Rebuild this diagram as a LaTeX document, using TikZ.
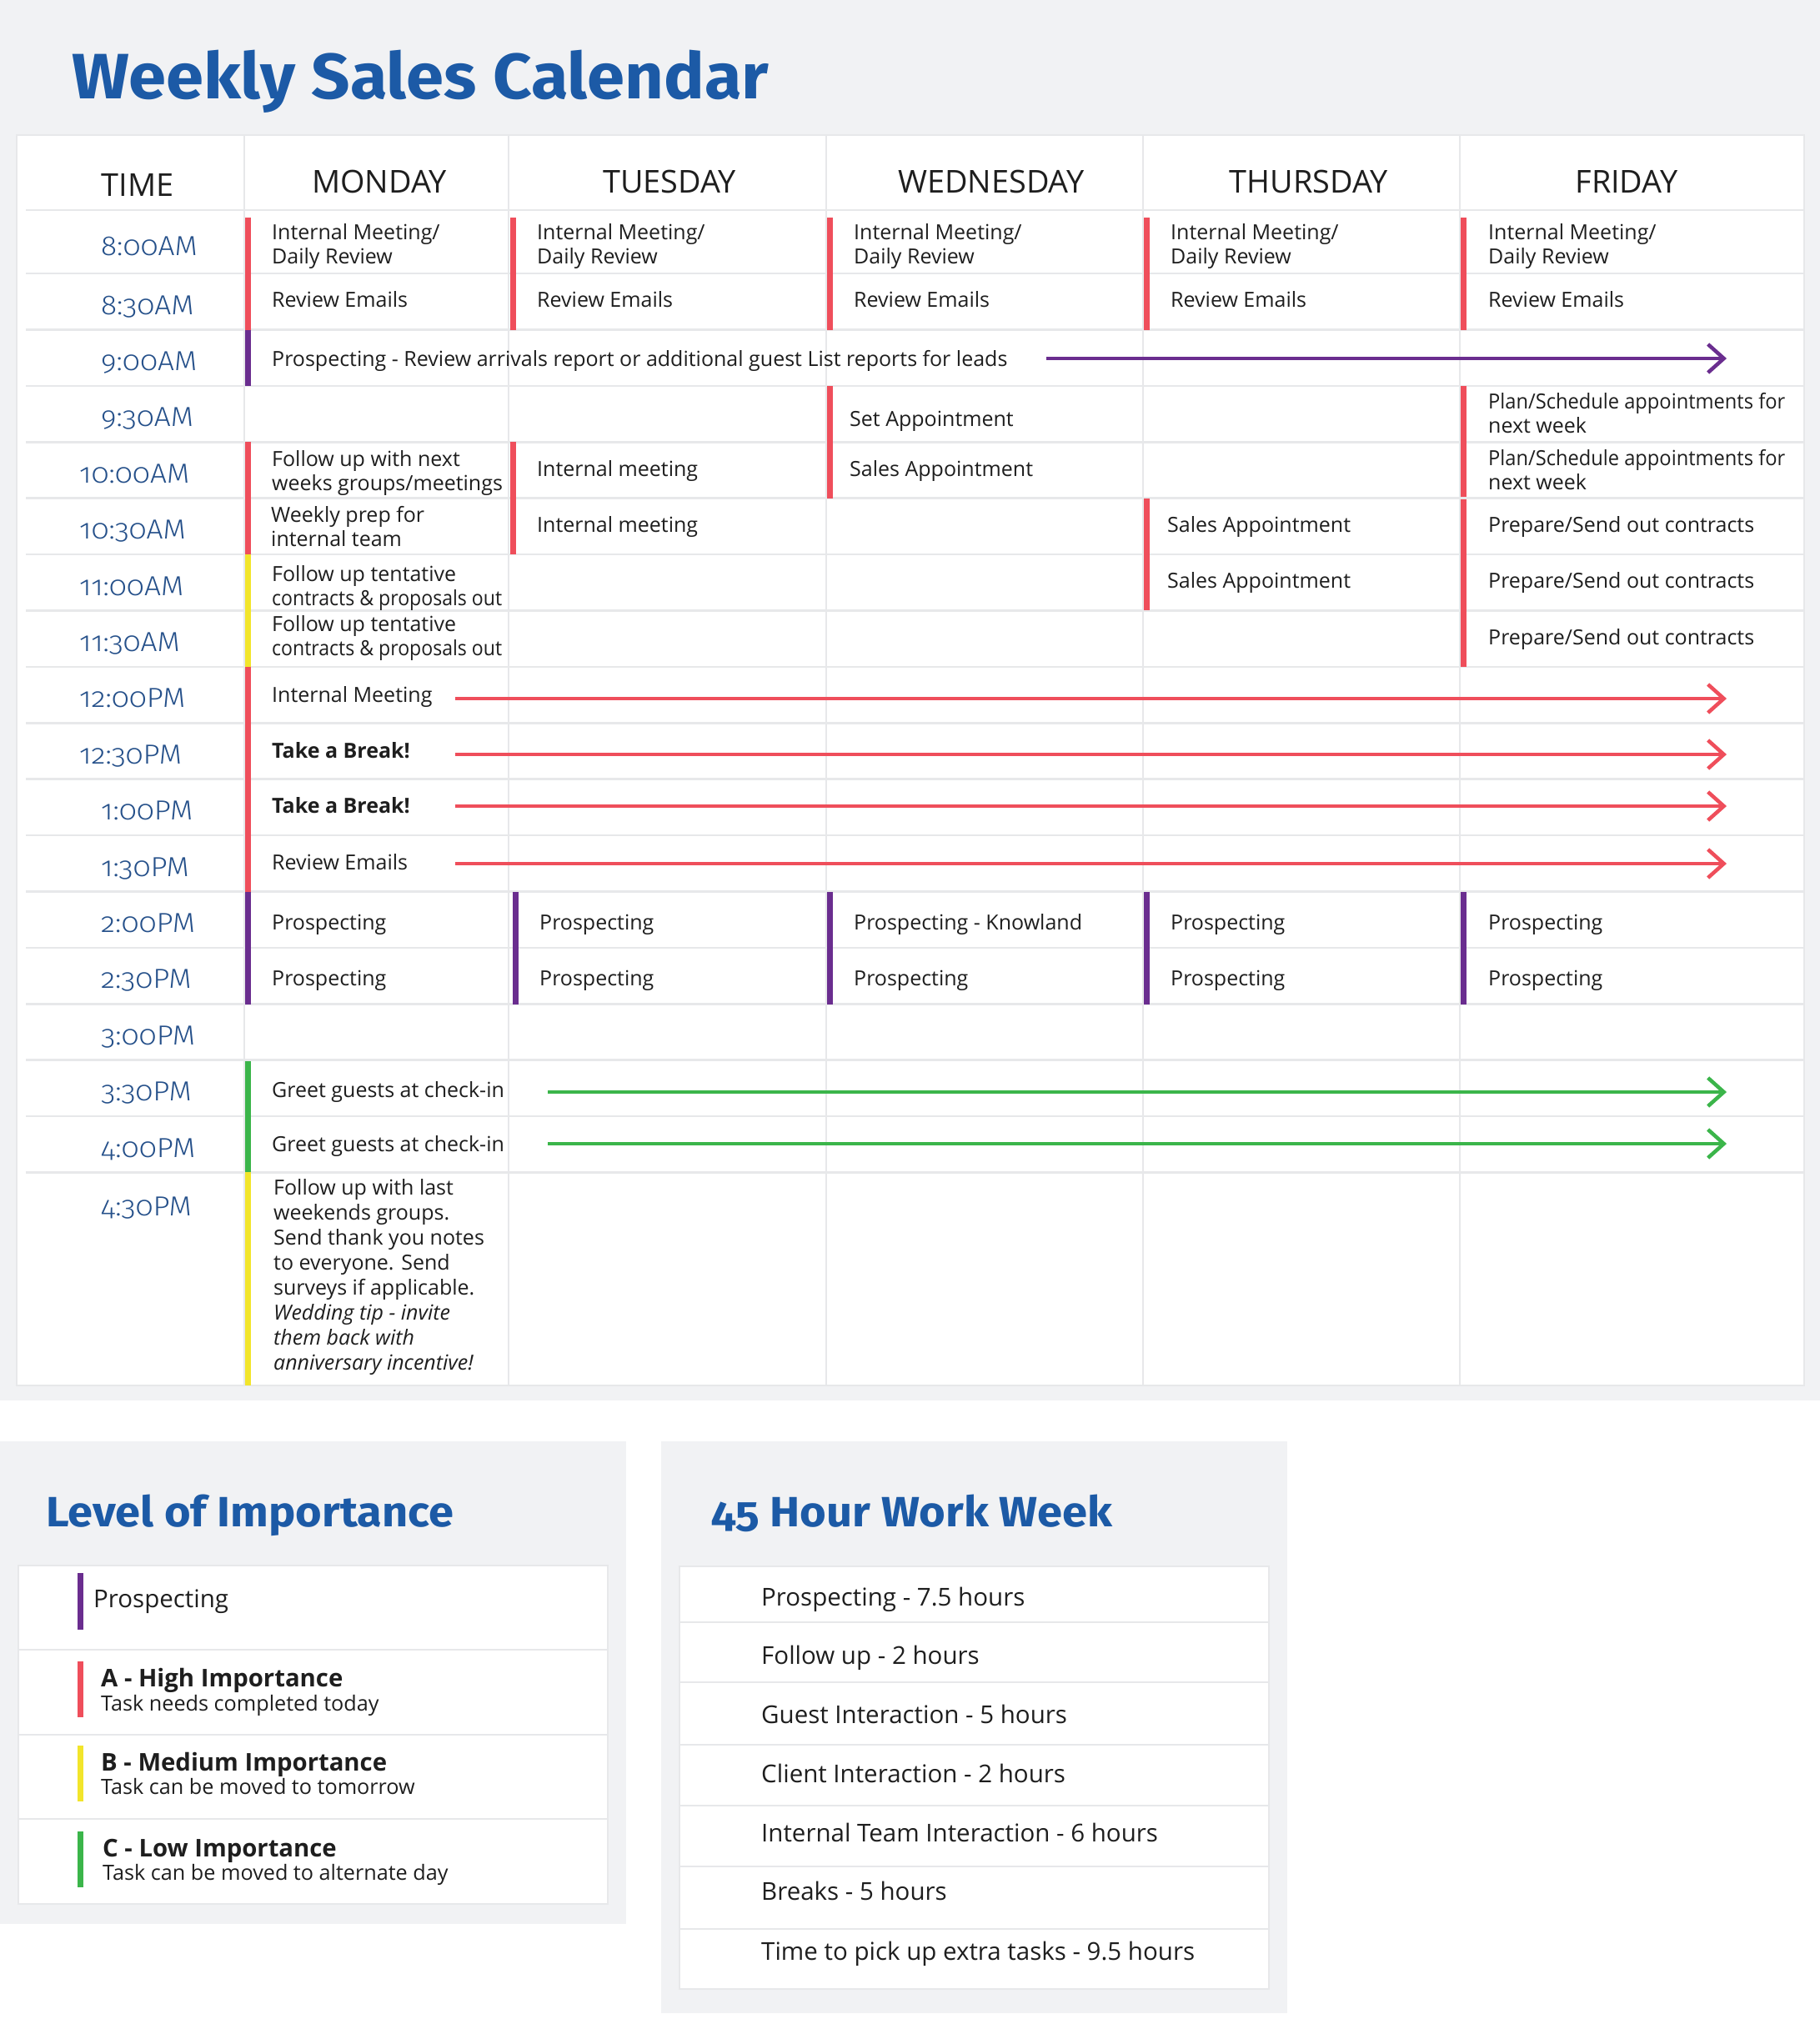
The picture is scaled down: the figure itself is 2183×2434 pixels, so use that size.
\documentclass[tikz,border=0pt]{standalone}
\usepackage{fontspec}
\usepackage{graphicx}
\setmainfont{Open Sans}
\newfontfamily\timefont[Numbers=OldStyle]{Fira Sans Light}
\newfontfamily\titlefont[Numbers=OldStyle]{Fira Sans}
\usetikzlibrary{arrows.meta}
\definecolor{bggray}{HTML}{F1F2F4}
\definecolor{gridgray}{HTML}{E7E8EA}
\definecolor{tred}{HTML}{EF4E5B}
\definecolor{tpurple}{HTML}{6A2D8F}
\definecolor{tyellow}{HTML}{F2E52B}
\definecolor{tgreen}{HTML}{3BB54A}
\definecolor{tnavy}{HTML}{25508A}
\definecolor{tblue}{HTML}{1C5AA6}
\definecolor{ttext}{HTML}{1E1E1E}
\newcommand\fitw[2]{\resizebox{#1pt}{\height}{#2}}
\begin{document}
\begin{tikzpicture}[x=1pt,y=-1pt,
  cell/.style={anchor=base west, inner sep=0pt, text=ttext, align=left, font=\fontsize{25}{29.5}\selectfont},
  timelbl/.style={anchor=base west, inner sep=0pt, text=tnavy, font=\timefont\fontsize{33}{36}\selectfont},
  dayhdr/.style={anchor=base, inner sep=0pt, text=ttext, font=\fontsize{37.8}{40}\selectfont},
  colbar/.style={line width=7pt},
  gridline/.style={draw=gridgray, line width=2.6pt},
  vline/.style={draw=gridgray, line width=2pt},
  flow/.style={line width=4.5pt, -{Straight Barb[length=19pt,width=34pt]}},
  paneltitle/.style={anchor=base west, inner sep=0pt, text=tblue},
  legmain/.style={anchor=base west, inner sep=0pt, text=ttext, font=\bfseries\fontsize{29.3}{31}\selectfont},
  legsub/.style={anchor=base west, inner sep=0pt, text=ttext, font=\fontsize{25.2}{27}\selectfont},
  hourtxt/.style={anchor=base west, inner sep=0pt, text=ttext, font=\fontsize{29.5}{32}\selectfont},
]
\useasboundingbox (0,0) rectangle (2183,2434);
\fill[white] (0,0) rectangle (2183,2434);
% ---------- top panel ----------
\fill[bggray] (0,0) rectangle (2183,1680);
\node[paneltitle] (title) at (86,118) {\fitw{836}{\titlefont\bfseries\fontsize{77}{80}\selectfont Weekly Sales Calendar}};
\fill[white] (20,162) rectangle (2164,1662);
\draw[vline] (20,162) rectangle (2164,1662);
\foreach \y in {252,328,395.4,462.8,530.2,597.6,665,732.4,799.8,867.2,934.6,1002,1069.4,1136.8,1204.2,1271.6,1339,1406.4}
  \draw[gridline] (31,\y) -- (2164,\y);
\foreach \x in {293,610,991,1371,1751}
  \draw[vline] (\x,162) -- (\x,1662);
% headers
\node[dayhdr] (hT) at (165,235) {TIME};
\node[dayhdr] (hM) at (455,231) {MONDAY};
\node[dayhdr] (hTu) at (803,231) {TUESDAY};
\node[dayhdr] (hW) at (1189,231) {WEDNESDAY};
\node[dayhdr] (hTh) at (1570,231) {THURSDAY};
\node[dayhdr] (hF) at (1951,231) {FRIDAY};
% time labels
\foreach \lbl/\x/\y [count=\i] in {8:00AM/121/306,8:30AM/121/377,9:00AM/121/444,9:30AM/121/511.5,10:00AM/95/579,10:30AM/95/646,11:00AM/95/714,11:30AM/95/781,12:00PM/95/848.5,12:30PM/95/916,1:00PM/121/983,1:30PM/121/1051,2:00PM/121/1118,2:30PM/121/1185.5,3:00PM/121/1253,3:30PM/121/1320,4:00PM/121/1388,4:30PM/121/1458}
  \node[timelbl] (t\i) at (\x,\y) {\scalebox{1.07}[1]{\lbl}};
% colour bars
\foreach \x in {297.5,615,995.5,1375,1755}
  \draw[colbar,tred] (\x,261) -- (\x,396);
\draw[colbar,tpurple] (297.5,396) -- (297.5,463);
\draw[colbar,tred] (995.5,463) -- (995.5,598);
\draw[colbar,tred] (1755,463) -- (1755,596);
\draw[colbar,tred] (1755,599) -- (1755,800);
\draw[colbar,tred] (297.5,530) -- (297.5,665);
\draw[colbar,tred] (615,530) -- (615,665);
\draw[colbar,tred] (1375,598) -- (1375,732);
\draw[colbar,tyellow] (297.5,665) -- (297.5,800);
\draw[colbar,tred] (297.5,800) -- (297.5,1070);
\foreach \x in {297.5,618.5,995.5,1375,1755}
  \draw[colbar,tpurple] (\x,1070) -- (\x,1205);
\draw[colbar,tgreen] (297.5,1273) -- (297.5,1406);
\draw[colbar,tyellow] (297.5,1406) -- (297.5,1662);
% 8:00 and 8:30 (multi-line nodes are placed by the baseline of their last line)
\foreach \x/\n in {326/M,644/Tu,1024/W,1404/Th,1785/F}{
  \node[cell] (a\n) at (\x,316.5) {Internal Meeting/\\Daily Review};
  \node[cell] (b\n) at (\x,368) {Review Emails};
}
% 9:00
\node[cell] (cM) at (326,439) {Prospecting - Review arrivals report or additional guest List reports for leads};
\coordinate (p9s) at (1255,430);
\coordinate (p9e) at (2071,430);
\draw[flow,tpurple] (p9s) -- (p9e);
% 9:30
\node[cell] (dW) at (1019,511) {Set Appointment};
\node[cell] (dF) at (1785,519.5) {\fitw{356}{Plan/Schedule appointments for}\\next week};
% 10:00
\node[cell] (eM) at (326,588.5) {Follow up with next\\weeks groups/meetings};
\node[cell] (eTu) at (644,571) {Internal meeting};
\node[cell] (eW) at (1019,571) {Sales Appointment};
\node[cell] (eF) at (1785,587.5) {\fitw{356}{Plan/Schedule appointments for}\\next week};
% 10:30
\node[cell] (fM) at (325,655.5) {Weekly prep for\\internal team};
\node[cell] (fTu) at (644,638) {Internal meeting};
\node[cell] (fTh) at (1400,638) {Sales Appointment};
\node[cell] (fF) at (1785,638) {Prepare/Send out contracts};
% 11:00
\node[cell] (gM) at (326,726.5) {Follow up tentative\\\fitw{276}{contracts \& proposals out}};
\node[cell] (gTh) at (1400,705.5) {Sales Appointment};
\node[cell] (gF) at (1785,705.5) {Prepare/Send out contracts};
% 11:30
\node[cell] (hM2) at (326,786.5) {Follow up tentative\\\fitw{276}{contracts \& proposals out}};
\node[cell] (hF2) at (1785,773) {Prepare/Send out contracts};
% 12:00 - 1:30
\node[cell] (iM) at (326,842) {Internal Meeting};
\node[cell] (jM) at (326,909) {\bfseries Take a Break!};
\node[cell] (kM) at (326,975) {\bfseries Take a Break!};
\node[cell] (lM) at (326,1043) {Review Emails};
\foreach \y/\n in {838/i,905/j,967/k,1036/l}{
  \coordinate (\n s) at (546,\y);
  \coordinate (\n e) at (2071,\y);
  \draw[flow,tred] (\n s) -- (\n e);
}
% 2:00 and 2:30
\node[cell] (mM) at (326,1115) {Prospecting};
\node[cell] (mTu) at (647,1115) {Prospecting};
\node[cell] (mW) at (1024,1115) {Prospecting - Knowland};
\node[cell] (mTh) at (1404,1115) {Prospecting};
\node[cell] (mF) at (1785,1115) {Prospecting};
\node[cell] (nM) at (326,1182) {Prospecting};
\node[cell] (nTu) at (647,1182) {Prospecting};
\node[cell] (nW) at (1024,1182) {Prospecting};
\node[cell] (nTh) at (1404,1182) {Prospecting};
\node[cell] (nF) at (1785,1182) {Prospecting};
% 3:30 and 4:00
\node[cell] (oM) at (326,1316) {Greet guests at check-in};
\node[cell] (qM) at (326,1381) {Greet guests at check-in};
\coordinate (os) at (657,1310);
\coordinate (oe) at (2071,1310);
\coordinate (qs) at (657,1372);
\coordinate (qe) at (2071,1372);
\draw[flow,tgreen] (os) -- (oe);
\draw[flow,tgreen] (qs) -- (qe);
% 4:30
\node[cell, font=\fontsize{25}{30}\selectfont] (rM) at (328,1643.5) {Follow up with last\\weekends groups.\\Send thank you notes\\to everyone. Send\\surveys if applicable.\\\itshape Wedding tip - invite\\\itshape them back with\\\itshape anniversary incentive!};
% ---------- Level of Importance ----------
\fill[bggray] (0,1729) rectangle (751,2308);
\node[paneltitle] (lvl) at (55,1831) {\fitw{489}{\titlefont\bfseries\fontsize{50.8}{54}\selectfont Level of Importance}};
\fill[white] (22,1878) rectangle (729,2284);
\draw[vline] (22,1878) rectangle (729,2284);
\foreach \y in {1979,2081,2182} \draw[gridline] (22,\y) -- (729,\y);
\draw[colbar,tpurple] (96,1887) -- (96,1955);
\draw[colbar,tred] (96,1993) -- (96,2060);
\draw[colbar,tyellow] (96,2094) -- (96,2161);
\draw[colbar,tgreen] (96,2197) -- (96,2264);
\node[hourtxt] (lp) at (112,1928) {Prospecting};
\node[legmain] (la) at (121,2023) {A - High Importance};
\node[legsub] (las) at (121,2052) {Task needs completed today};
\node[legmain] (lb) at (121,2124) {B - Medium Importance};
\node[legsub] (lbs) at (121,2152) {Task can be moved to tomorrow};
\node[legmain] (lc) at (123,2227) {C - Low Importance};
\node[legsub] (lcs) at (123,2255) {Task can be moved to alternate day};
% ---------- 45 Hour Work Week ----------
\fill[bggray] (793,1729) rectangle (1544,2415);
\node[paneltitle] (wk) at (853,1831) {\fitw{481}{\titlefont\bfseries\fontsize{50.8}{54}\selectfont 45 Hour Work Week}};
\fill[white] (815,1879) rectangle (1522,2386);
\draw[vline] (815,1879) rectangle (1522,2386);
\foreach \y in {1946,2018,2093,2166,2239,2314} \draw[gridline] (815,\y) -- (1522,\y);
\foreach \txt/\y [count=\i] in {Prospecting - 7.5 hours/1926,Follow up - 2 hours/1996,Guest Interaction - 5 hours/2067,Client Interaction - 2 hours/2138,Internal Team Interaction - 6 hours/2209,Breaks - 5 hours/2279,Time to pick up extra tasks - 9.5 hours/2351}
  \node[hourtxt] (w\i) at (913,\y) {\txt};
\end{tikzpicture}
\end{document}
